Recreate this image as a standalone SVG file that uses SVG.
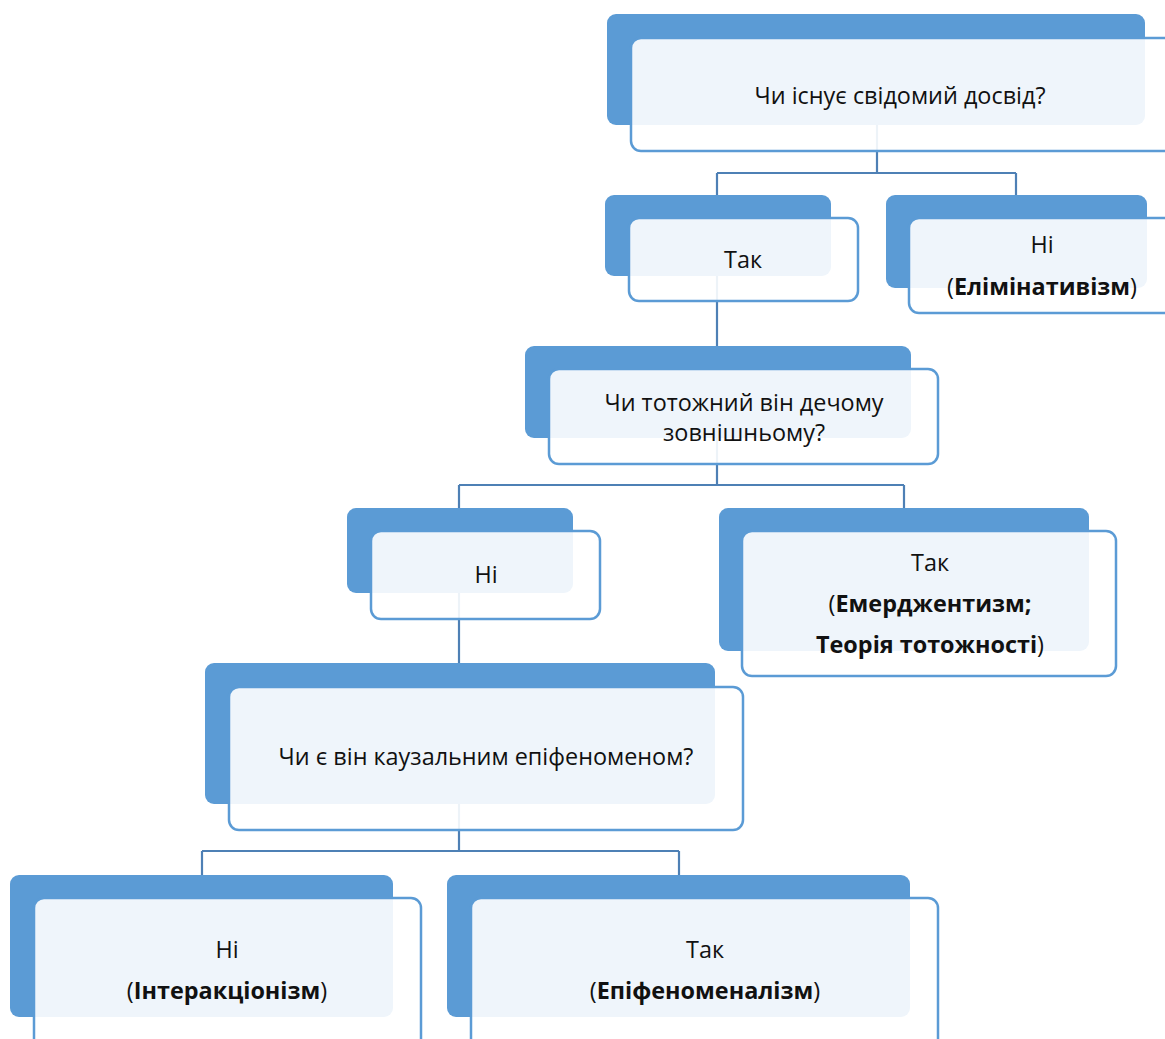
<svg xmlns="http://www.w3.org/2000/svg" width="1165" height="1039" viewBox="0 0 1165 1039">
<style>
.back{fill:#5B9BD5}
.front{fill:#ffffff;fill-opacity:0.9;stroke:#5B9BD5;stroke-width:2.5}
.conn{fill:none;stroke:#4E80B5;stroke-width:2.2}
text{font-family:"Open Sans","Noto Sans","Liberation Sans",sans-serif;font-size:23.4px;fill:#111;text-anchor:middle}
.b{font-weight:bold}
</style>
<rect width="1165" height="1039" fill="#ffffff"/>
<g id="connectors">
<path class="conn" d="M877,125 V173 M717,173 H1016 M717,173 V195 M1016,173 V195"/>
<path class="conn" d="M717,276 V346"/>
<path class="conn" d="M717,438 V485 M459,485 H904 M459,485 V508 M904,485 V508"/>
<path class="conn" d="M459,593 V663"/>
<path class="conn" d="M459,804 V851 M202,851 H679 M202,851 V875 M679,851 V875"/>
</g>
<g id="n1">
<rect class="back" x="607" y="14" width="538" height="111" rx="9"/>
<rect class="front" x="631" y="38" width="560" height="113" rx="10"/>
<text x="900" y="104">Чи існує свідомий досвід?</text>
</g>
<g id="n2">
<rect class="back" x="605" y="195" width="226" height="81" rx="9"/>
<rect class="front" x="629" y="218" width="229" height="83" rx="10"/>
<text x="743" y="268">Так</text>
</g>
<g id="n3">
<rect class="back" x="886" y="195" width="261" height="93" rx="9"/>
<rect class="front" x="909" y="218" width="280" height="95" rx="10"/>
<text x="1042" y="253">Ні</text>
<text x="1042" y="295">(<tspan class="b">Елімінативізм</tspan>)</text>
</g>
<g id="n4">
<rect class="back" x="525" y="346" width="386" height="92" rx="9"/>
<rect class="front" x="549" y="369" width="389" height="95" rx="10"/>
<text x="744" y="411">Чи тотожний він дечому</text>
<text x="744" y="441">зовнішньому?</text>
</g>
<g id="n5">
<rect class="back" x="347" y="508" width="226" height="85" rx="9"/>
<rect class="front" x="371" y="531" width="229" height="88" rx="10"/>
<text x="486" y="583">Ні</text>
</g>
<g id="n6">
<rect class="back" x="719" y="508" width="370" height="143" rx="9"/>
<rect class="front" x="742" y="531" width="374" height="145" rx="10"/>
<text x="930" y="571">Так</text>
<text x="930" y="612">(<tspan class="b">Емерджентизм;</tspan></text>
<text x="930" y="653"><tspan class="b">Теорія тотожності</tspan>)</text>
</g>
<g id="n7">
<rect class="back" x="205" y="663" width="510" height="141" rx="9"/>
<rect class="front" x="229" y="687" width="514" height="143" rx="10"/>
<text x="486" y="765">Чи є він каузальним епіфеноменом?</text>
</g>
<g id="n8">
<rect class="back" x="10" y="875" width="383" height="142" rx="9"/>
<rect class="front" x="34" y="898" width="387" height="160" rx="10"/>
<text x="227" y="958">Ні</text>
<text x="227" y="999">(<tspan class="b">Інтеракціонізм</tspan>)</text>
</g>
<g id="n9">
<rect class="back" x="447" y="875" width="463" height="142" rx="9"/>
<rect class="front" x="471" y="898" width="467" height="160" rx="10"/>
<text x="705" y="958">Так</text>
<text x="705" y="999">(<tspan class="b">Епіфеноменалізм</tspan>)</text>
</g>
</svg>
